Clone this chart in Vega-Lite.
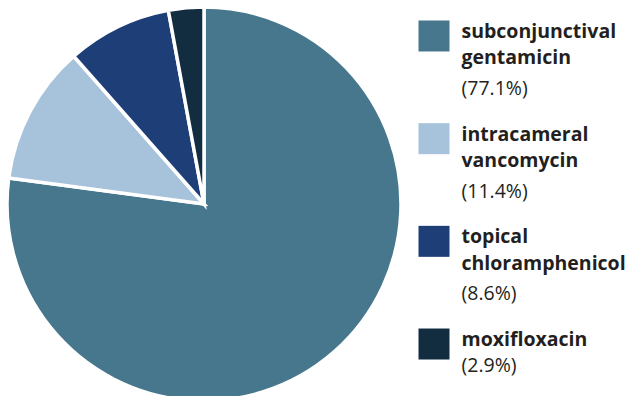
{
  "$schema": "https://vega.github.io/schema/vega-lite/v6.json",
  "padding": 0,
  "spacing": 0,
  "background": "white",
  "config": {"view": {"stroke": null}},
  "datasets": {
    "shares": [
      {"drug": "subconjunctival gentamicin", "label": ["subconjunctival", "gentamicin"], "share": 77.1, "order": 1},
      {"drug": "intracameral vancomycin", "label": ["intracameral", "vancomycin"], "share": 11.4, "order": 2},
      {"drug": "topical chloramphenicol", "label": ["topical", "chloramphenicol"], "share": 8.6, "order": 3},
      {"drug": "moxifloxacin", "label": ["moxifloxacin"], "share": 2.9, "order": 4}
    ]
  },
  "hconcat": [
    {
      "width": 406,
      "height": 404,
      "data": {"name": "shares"},
      "mark": {"type": "arc", "outerRadius": 197, "stroke": "white", "strokeWidth": 3.5},
      "encoding": {
        "theta": {"field": "share", "type": "quantitative", "stack": true},
        "order": {"field": "order", "type": "quantitative"},
        "color": {
          "field": "drug",
          "type": "nominal",
          "scale": {
            "domain": ["subconjunctival gentamicin", "intracameral vancomycin", "topical chloramphenicol", "moxifloxacin"],
            "range": ["#47778d", "#a7c2db", "#1e3e78", "#122d40"]
          },
          "legend": null
        }
      }
    },
    {
      "width": 224,
      "height": 376,
      "data": {"name": "shares"},
      "transform": [
        {"calculate": "'(' + format(datum.share, '.1f') + '%)'", "as": "pct"}
      ],
      "encoding": {
        "y": {
          "field": "drug",
          "type": "nominal",
          "sort": {"field": "order"},
          "scale": {"type": "point", "padding": 0.331},
          "axis": null
        }
      },
      "layer": [
        {
          "mark": {"type": "square", "size": 961, "opacity": 1},
          "encoding": {
            "x": {"datum": 0, "type": "quantitative", "scale": {"domain": [0, 1], "range": [26, 53.5]}, "axis": null},
            "color": {
              "field": "drug",
              "type": "nominal",
              "scale": {
                "domain": ["subconjunctival gentamicin", "intracameral vancomycin", "topical chloramphenicol", "moxifloxacin"],
                "range": ["#47778d", "#a7c2db", "#1e3e78", "#122d40"]
              },
              "legend": null
            }
          }
        },
        {
          "mark": {"type": "text", "align": "left", "baseline": "alphabetic", "dy": 2, "lineHeight": 26.5, "font": "Open Sans", "fontWeight": "bold", "fontSize": 19.5, "fill": "#231f20"},
          "encoding": {
            "x": {"datum": 1, "type": "quantitative"},
            "text": {"field": "label"}
          }
        },
        {
          "transform": [{"filter": "length(datum.label) == 2"}],
          "mark": {"type": "text", "align": "left", "baseline": "alphabetic", "dy": 59, "font": "Open Sans", "fontSize": 19.5, "fill": "#231f20"},
          "encoding": {
            "x": {"datum": 1, "type": "quantitative"},
            "text": {"field": "pct"}
          }
        },
        {
          "transform": [{"filter": "length(datum.label) == 1"}],
          "mark": {"type": "text", "align": "left", "baseline": "alphabetic", "dy": 28, "font": "Open Sans", "fontSize": 19.5, "fill": "#231f20"},
          "encoding": {
            "x": {"datum": 1, "type": "quantitative"},
            "text": {"field": "pct"}
          }
        }
      ]
    }
  ]
}
